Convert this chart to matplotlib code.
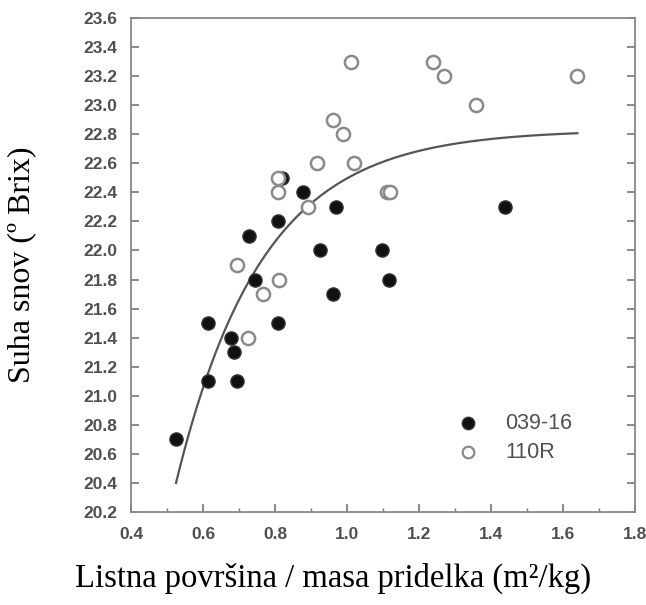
import numpy as np
import matplotlib
matplotlib.use("Agg")
import matplotlib.pyplot as plt
from matplotlib.ticker import MultipleLocator

# 039-16 (filled)
x_039 = [0.524, 0.615, 0.615, 0.678, 0.686, 0.694, 0.728, 0.744, 0.808, 0.808,
         0.819, 0.878, 0.925, 0.960, 0.969, 1.097, 1.117, 1.440]
y_039 = [20.7, 21.5, 21.1, 21.4, 21.3, 21.1, 22.1, 21.8, 22.2, 21.5,
         22.5, 22.4, 22.0, 21.7, 22.3, 22.0, 21.8, 22.3]
# 110R (open)
x_110 = [0.695, 0.726, 0.767, 0.810, 0.808, 0.808, 0.893, 0.917, 0.960, 0.990,
         1.010, 1.020, 1.110, 1.120, 1.239, 1.270, 1.358, 1.640]
y_110 = [21.9, 21.4, 21.7, 21.8, 22.4, 22.5, 22.3, 22.6, 22.9, 22.8,
         23.3, 22.6, 22.4, 22.4, 23.3, 23.2, 23.0, 23.2]

# fitted curve y = a - b*exp(-c*x)
fit_a, fit_b, fit_c = 22.83, 2.43 * np.exp(0.525 * 4.18), 4.18
fit_xmin, fit_xmax = 0.525, 1.64

xticks = [0.4, 0.6, 0.8, 1.0, 1.2, 1.4, 1.6, 1.8]
yticks = [20.2, 20.4, 20.6, 20.8, 21.0, 21.2, 21.4, 21.6, 21.8, 22.0, 22.2,
          22.4, 22.6, 22.8, 23.0, 23.2, 23.4, 23.6]
labels = ["039-16", "110R"]

fig = plt.figure(figsize=(6.46, 6.05), dpi=100)
ax = fig.add_axes([131/646, 93/605, 504/646, 494/605])

ax.scatter(x_039, y_039, s=90, facecolor="#111111", edgecolor="#333333",
           linewidth=1.0, zorder=3)
ax.scatter(x_110, y_110, s=90, facecolor="white", edgecolor="#8a8a8a",
           linewidth=1.8, zorder=4)

xf = np.linspace(fit_xmin, fit_xmax, 200)
ax.plot(xf, fit_a - fit_b * np.exp(-fit_c * xf), color="#555555", lw=1.6, zorder=2)

ax.set_xlim(0.4, 1.8)
ax.set_ylim(20.2, 23.6)
ax.set_xticks(xticks)
ax.set_yticks(yticks)
ax.set_xticklabels([f"{v:.1f}" for v in xticks])
ax.set_yticklabels([f"{v:.1f}" for v in yticks])
ax.xaxis.set_minor_locator(MultipleLocator(0.1))
ax.tick_params(axis="both", which="both", direction="in", colors="#777777",
               labelcolor="#505050", labelsize=12.5)
ax.tick_params(axis="y", which="both", right=True, length=6, width=1.2, pad=10)
ax.tick_params(axis="x", which="major", length=6, width=1.2, pad=11)
ax.tick_params(axis="x", which="minor", length=3, width=1.0)
for lab in ax.get_xticklabels() + ax.get_yticklabels():
    lab.set_fontfamily("Liberation Sans")
    lab.set_fontweight("bold")
for s in ax.spines.values():
    s.set_color("#888888")
    s.set_linewidth(1.3)

# legend
ax.scatter([1.336], [20.81], s=80, facecolor="#111111", edgecolor="#333333", linewidth=1.0)
ax.scatter([1.336], [20.61], s=70, facecolor="white", edgecolor="#8a8a8a", linewidth=1.6)
ax.text(1.44, 20.81, labels[0], va="center", ha="left", fontsize=15.5,
        family="Liberation Sans", color="#505050")
ax.text(1.44, 20.61, labels[1], va="center", ha="left", fontsize=15.5,
        family="Liberation Sans", color="#505050")

fig.text(333/646, 1 - 578/605, "Listna površina / masa pridelka (m²/kg)",
         ha="center", va="center", fontsize=23.5, family="Liberation Serif")
fig.text(22/646, 1 - 265/605, "Suha snov (º Brix)", rotation=90,
         ha="center", va="center", fontsize=23, family="Liberation Serif")

fig.savefig("out.png", dpi=100)
